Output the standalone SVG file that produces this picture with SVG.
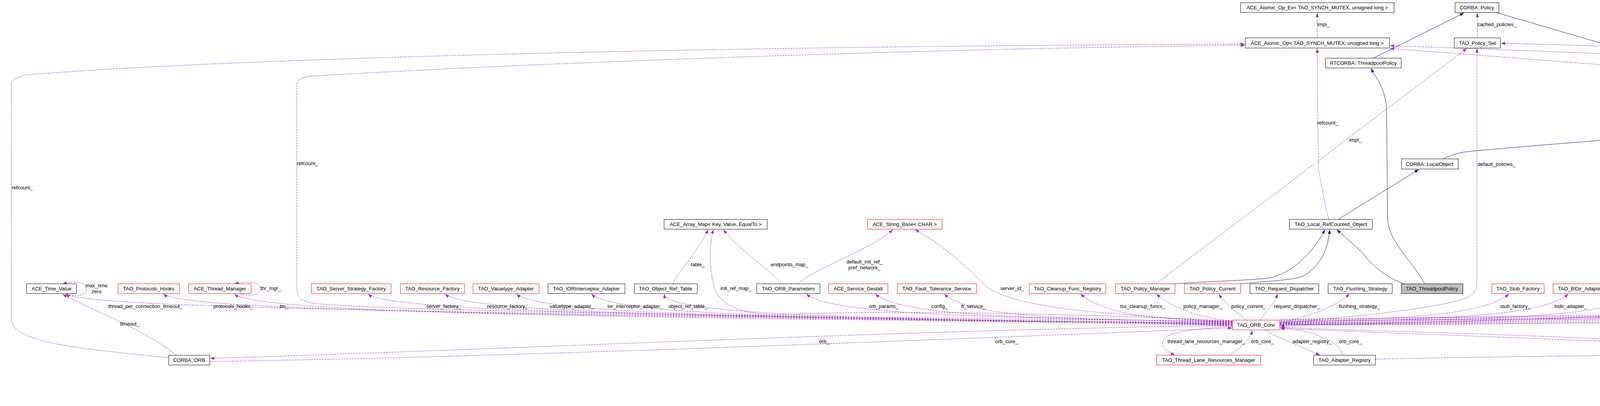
<svg xmlns="http://www.w3.org/2000/svg" width="6241" height="1040" viewBox="0 0 6241 1040">
<style>
text{font-family:"Liberation Sans",Arial,sans-serif;font-size:13px;fill:#000}
.nd text{text-anchor:middle}
.lb text{text-anchor:middle}
.nd rect{fill:#fff;stroke:#000;stroke-width:1}
.nd .red rect{stroke:#ff0000}
.nd .cur rect{fill:#bfbfbf}
.e{fill:none;stroke:#9a32cd;stroke-width:1;stroke-dasharray:5,2;marker-end:url(#ap)}
.i{fill:none;stroke:#191970;stroke-width:1;marker-end:url(#an)}
</style>
<defs>
<marker id="ap" markerWidth="11" markerHeight="8" refX="11" refY="4" orient="auto" markerUnits="userSpaceOnUse"><path d="M0,0 L11,4 L0,8 z" fill="#9a32cd"/></marker>
<marker id="an" markerWidth="11" markerHeight="8" refX="11" refY="4" orient="auto" markerUnits="userSpaceOnUse"><path d="M0,0 L11,4 L0,8 z" fill="#191970"/></marker>
</defs>
<rect width="6241" height="1040" fill="#fff"/>
<g id="edges">
<path class="i" d="M3516,149 L3748,33"/>
<path class="i" d="M3830,32 L4757,303"/>
<path class="i" d="M3694,407 C3720,395 3740,390 3760,388 C3950,370 4400,335 4744,317"/>
<path class="i" d="M3426,562 L3632,434"/>
<path class="i" d="M3005,727 C3100,720 3220,718 3260,710 C3320,690 3365,640 3392,588"/>
<path class="i" d="M3176,727 C3240,720 3320,718 3340,705 C3380,680 3400,640 3404,588"/>
<path class="i" d="M3594,727 C3560,715 3520,690 3490,650 C3460,620 3440,605 3422,588"/>
<path class="i" d="M3647,727 C3610,660 3555,620 3552,560 L3550,290 C3550,230 3522,200 3510,175"/>
<path class="i" d="M5153,252 L5153,124"/>
<path class="e" d="M432,917 C250,895 35,885 29,820 L29,215 C29,200 60,190 104,189 C600,150 1800,118 3187,113"/>
<path class="e" d="M3155,823 C2000,812 900,795 790,775 C765,768 760,755 760,735 L760,215 C760,200 790,195 812,194 C1300,165 2300,125 3187,116"/>
<path class="e" d="M170,753 C205,763 222,752 222,740 C222,728 205,716 160,727"/>
<path class="e" d="M615,753 C650,762 667,752 667,740 C667,728 650,716 600,727"/>
<path class="e" d="M451,910 C380,850 250,800 160,754"/>
<path class="e" d="M3155,834 C1660,800 236,798 168,753"/>
<path class="e" d="M3155,833 C1787,806 488,806 418,753"/>
<path class="e" d="M3155,832 C1878,812 670,812 600,753"/>
<path class="e" d="M3155,831 C2048,808 1012,808 942,753"/>
<path class="e" d="M3155,830 C2147,812 1209,812 1139,753"/>
<path class="e" d="M3155,829 C2238,815 1392,815 1322,753"/>
<path class="e" d="M3155,828 C2334,818 1584,818 1514,753"/>
<path class="e" d="M3155,827 C2428,820 1701,815 1701,753"/>
<path class="e" d="M3155,826 C2610,812 2134,812 2064,753"/>
<path class="e" d="M3155,825 C2698,815 2311,815 2241,753"/>
<path class="e" d="M3155,824 C2786,818 2487,818 2417,753"/>
<path class="e" d="M3155,823 C2960,818 2836,810 2766,753"/>
<path class="e" d="M3155,822 C3080,815 3010,795 2960,753"/>
<path class="e" d="M3190,820 C3170,800 3140,785 3120,753"/>
<path class="e" d="M3226,820 C3240,800 3260,780 3271,753"/>
<path class="e" d="M3276,830 C3330,810 3400,800 3455,753"/>
<path class="e" d="M3276,826 C3570,815 3793,812 3863,753"/>
<path class="e" d="M3276,827 C3645,817 3945,815 4015,753"/>
<path class="e" d="M3276,828 C3736,819 4126,818 4196,753"/>
<path class="e" d="M3276,829 C3845,820 4345,820 4415,753"/>
<path class="e" d="M3276,830 C3957,822 4569,818 4639,753"/>
<path class="e" d="M3276,831 C4090,824 4833,815 4903,753"/>
<path class="e" d="M3276,832 C4236,826 5126,818 5196,753"/>
<path class="e" d="M3276,833 C4343,828 5341,820 5411,753"/>
<path class="e" d="M3278,822 C4500,812 5500,818 5590,800 C5620,790 5645,775 5664,753"/>
<path class="e" d="M3155,822 C2700,800 2200,795 2000,806 C1900,808 1840,780 1829,737 C1816,690 1814,640 1826,588"/>
<path class="e" d="M3155,826 C3000,815 2850,805 2743,793 C2600,775 2540,750 2518,727 C2450,660 2400,620 2342,588"/>
<path class="e" d="M1722,727 C1740,690 1790,640 1813,588"/>
<path class="e" d="M2001,727 C1960,680 1890,640 1852,588"/>
<path class="e" d="M2041,727 C2100,680 2230,640 2286,588"/>
<path class="e" d="M3155,834 C2400,842 1300,895 538,918"/>
<path class="e" d="M537,926 C1300,915 2400,870 3155,840"/>
<path class="e" d="M3155,836 C3080,840 3010,850 2990,860 C2965,875 2975,895 3008,910"/>
<path class="e" d="M3146,910 C3180,890 3200,870 3206,846"/>
<path class="e" d="M3239,846 C3280,870 3340,890 3379,910"/>
<path class="e" d="M3438,910 C3430,880 3380,850 3277,838"/>
<path class="e" d="M3278,828 C3450,812 3700,790 3760,760 C3778,748 3781,740 3781,720 L3781,124"/>
<path class="e" d="M3402,562 C3395,540 3388,500 3375,430 L3372,124"/>
<path class="e" d="M3372,97 L3372,33"/>
<path class="e" d="M3782,97 L3782,33"/>
<path class="e" d="M2959,727 L3755,124"/>
<path class="e" d="M5667,206 C5300,175 4500,125 3842,111"/>
<path class="e" d="M5667,212 C5300,190 4500,150 3558,117"/>
<path class="e" d="M4622,205 C4400,190 3900,150 3558,124"/>
<path class="e" d="M4712,201 L4710,124"/>
<path class="e" d="M4787,302 C4770,270 4745,245 4734,228"/>
<path class="e" d="M4826,302 C4900,250 5050,170 5122,124"/>
<path class="e" d="M4860,312 C5000,300 5150,290 5300,280 C5450,260 5600,230 5666,222"/>
<path class="e" d="M4803,329 L4803,745 C4803,770 4760,785 4700,790 C4300,808 3600,828 3277,834"/>
<path class="e" d="M3278,824 C3800,812 4900,812 4995,797 C5030,780 5035,740 5022,707 L4817,329"/>
<path class="e" d="M3278,820 C4200,802 4950,800 5055,787 C5100,760 5130,700 5145,640 C5168,540 5170,420 5156,278"/>
<path class="e" d="M3278,818 C4500,805 5450,805 5571,787 C5600,760 5620,725 5651,720 C5700,705 5850,702 5923,687 C5990,670 6020,640 6030,600 C6040,550 6042,450 6042,300 L6042,210 C6042,170 6000,140 5983,124"/>
<path class="e" d="M5667,204 C5550,180 5350,140 5196,118"/>
<path class="e" d="M5709,201 L5709,124"/>
<path class="e" d="M5754,203 C5820,180 5890,150 5926,124"/>
<path class="e" d="M5737,228 C5780,250 5805,280 5805,320 L5807,700 C5800,800 5720,850 5600,880 C5450,910 5350,915 5277,920"/>
<path class="e" d="M5752,226 C5850,250 5914,280 5914,330 L5914,860 C5914,880 5905,895 5897,910"/>
<path class="e" d="M5753,218 C5880,240 5925,290 5935,320 L6035,515 C6080,620 6092,650 6092,700 L6092,940 C6092,980 6040,995 6005,1000"/>
<path class="e" d="M5880,910 C5800,700 5700,600 5638,520 C5500,380 5400,270 5306,250 C5150,235 4950,225 4816,220"/>
<path class="e" d="M5843,922 C5400,915 4500,890 4100,868 C3700,850 3400,845 3277,838"/>
<path class="e" d="M5096,920 C4800,910 4300,882 4100,874 C3700,858 3400,846 3277,842"/>
<path class="e" d="M3521,920 C4200,905 5200,905 5400,895 C5600,870 5700,830 5707,753"/>
<path class="e" d="M5903,1000 C5890,990 5875,970 5878,936"/>
<path class="e" d="M5910,936 C5925,955 5940,975 5949,1000"/>
<path class="e" d="M5995,1025 C6020,1032 6030,1020 6030,1012 C6030,1002 6020,994 5990,1000"/>
</g>
<g id="labels" class="lb">
<text x="57" y="485">refcount_</text>
<text x="787" y="423">refcount_</text>
<text x="247" y="736">max_time</text>
<text x="247" y="751">zero</text>
<text x="693" y="743">thr_mgr_</text>
<text x="372" y="789">thread_per_connection_timeout_</text>
<text x="597" y="789">protocols_hooks_</text>
<text x="727" y="789">tm_</text>
<text x="332" y="834">timeout_</text>
<text x="1136" y="789">server_factory_</text>
<text x="1299" y="789">resource_factory_</text>
<text x="1464" y="789">valuetype_adapter_</text>
<text x="1626" y="789">ior_interceptor_adapter_</text>
<text x="1761" y="789">object_ref_table_</text>
<text x="1786" y="682">table_</text>
<text x="1884" y="743">init_ref_map_</text>
<text x="2021" y="682">endpoints_map_</text>
<text x="2213" y="675">default_init_ref_</text>
<text x="2213" y="690">pref_network_</text>
<text x="2591" y="743">server_id_</text>
<text x="2262" y="789">orb_params_</text>
<text x="2405" y="789">config_</text>
<text x="2492" y="789">ft_service_</text>
<text x="2925" y="789">tss_cleanup_funcs_</text>
<text x="3079" y="789">policy_manager_</text>
<text x="3196" y="789">policy_current_</text>
<text x="3320" y="789">request_dispatcher_</text>
<text x="3480" y="789">flushing_strategy_</text>
<text x="3879" y="789">stub_factory_</text>
<text x="4021" y="789">bidir_adapter_</text>
<text x="4187" y="789">client_factory_</text>
<text x="4413" y="789">endpoint_selector_factory_</text>
<text x="4635" y="789">codeset_manager_</text>
<text x="4933" y="789">collocation_resolver_</text>
<text x="5218" y="789">parser_registry_</text>
<text x="5451" y="789">network_priority_protocols_hooks_</text>
<text x="5657" y="789">poa_adapter_</text>
<text x="5687" y="836">adapters_</text>
<text x="2110" y="879">orb_</text>
<text x="2577" y="879">orb_core_</text>
<text x="3088" y="879">thread_lane_resources_manager_</text>
<text x="3232" y="879">orb_core_</text>
<text x="3359" y="879">adapter_registry_</text>
<text x="3457" y="879">orb_core_</text>
<text x="4326" y="879">p_</text>
<text x="4798" y="879">orb_core_</text>
<text x="3388" y="67">impl_</text>
<text x="3832" y="67">cached_policies_</text>
<text x="3399" y="319">refcount_</text>
<text x="3470" y="363">impl_</text>
<text x="3831" y="425">default_policies_</text>
<text x="4256" y="165">mutex_refcount_</text>
<text x="4754" y="165">null_refcount_</text>
<text x="4830" y="165">refcount_</text>
<text x="5049" y="217">object_init_lock_</text>
<text x="4799" y="267">refcount_</text>
<text x="4832" y="577">orb_core_</text>
<text x="5052" y="527">pi_current_</text>
<text x="5052" y="541">ior_manip_factory_</text>
<text x="5052" y="556">ior_table_</text>
<text x="5052" y="570">typecode_factory_</text>
<text x="5052" y="585">implrepo_service_</text>
<text x="5052" y="600">codec_factory_</text>
<text x="5052" y="615">compression_manager_</text>
<text x="5052" y="629">dynany_factory_</text>
<text x="5225" y="486">data_block_lock_</text>
<text x="5280" y="165">policies_</text>
<text x="5544" y="165">profile_lock_ptr_</text>
<text x="5768" y="165">collocated_servant_</text>
<text x="5932" y="159">servant_orb_</text>
<text x="5932" y="173">orb_</text>
<text x="5564" y="267">protocol_proxy_</text>
<text x="6080" y="404">rt_orb_</text>
<text x="6080" y="419">poa_current_</text>
<text x="6080" y="433">rt_current_</text>
<text x="6080" y="447">root_poa_</text>
<text x="5746" y="577">refcount_</text>
<text x="5842" y="577">orb_core_</text>
<text x="5959" y="577">profile_in_use_</text>
<text x="6162" y="668">forward_profiles_</text>
<text x="6162" y="683">forward_profiles_perm_</text>
<text x="6162" y="697">base_profiles_</text>
<text x="5899" y="971">pfiles_</text>
<text x="5972" y="971">forward_to_</text>
<text x="6078" y="1016">forward_from_</text>
</g>
<g id="nodes" class="nd">
<g id="n_ACE_Time_Value"><rect x="68" y="727" width="128" height="25"/><text x="132" y="744">ACE_Time_Value</text></g>
<g id="n_TAO_Protocols_Hooks" class="red"><rect x="302" y="727" width="158" height="25"/><text x="381" y="744">TAO_Protocols_Hooks</text></g>
<g id="n_ACE_Thread_Manager" class="red"><rect x="483" y="727" width="160" height="25"/><text x="563" y="744">ACE_Thread_Manager</text></g>
<g id="n_TAO_Server_Strategy_Factory" class="red"><rect x="797" y="727" width="204" height="25"/><text x="899" y="744">TAO_Server_Strategy_Factory</text></g>
<g id="n_TAO_Resource_Factory" class="red"><rect x="1025" y="727" width="164" height="25"/><text x="1107" y="744">TAO_Resource_Factory</text></g>
<g id="n_TAO_Valuetype_Adapter" class="red"><rect x="1211" y="727" width="169" height="25"/><text x="1295" y="744">TAO_Valuetype_Adapter</text></g>
<g id="n_TAO_IORInterceptor_Adapter"><rect x="1403" y="727" width="197" height="25"/><text x="1501" y="744">TAO_IORInterceptor_Adapter</text></g>
<g id="n_TAO_Object_Ref_Table"><rect x="1624" y="727" width="161" height="25"/><text x="1704" y="744">TAO_Object_Ref_Table</text></g>
<g id="n_TAO_ORB_Parameters"><rect x="1937" y="727" width="162" height="25"/><text x="2018" y="744">TAO_ORB_Parameters</text></g>
<g id="n_ACE_Service_Gestalt" class="red"><rect x="2121" y="727" width="152" height="25"/><text x="2197" y="744">ACE_Service_Gestalt</text></g>
<g id="n_TAO_Fault_Tolerance_Service" class="red"><rect x="2297" y="727" width="203" height="25"/><text x="2398" y="744">TAO_Fault_Tolerance_Service</text></g>
<g id="n_TAO_Cleanup_Func_Registry" class="red"><rect x="2635" y="727" width="196" height="25"/><text x="2733" y="744">TAO_Cleanup_Func_Registry</text></g>
<g id="n_TAO_Policy_Manager" class="red"><rect x="2856" y="727" width="152" height="25"/><text x="2932" y="744">TAO_Policy_Manager</text></g>
<g id="n_TAO_Policy_Current" class="red"><rect x="3032" y="727" width="144" height="25"/><text x="3104" y="744">TAO_Policy_Current</text></g>
<g id="n_TAO_Request_Dispatcher"><rect x="3200" y="727" width="176" height="25"/><text x="3288" y="744">TAO_Request_Dispatcher</text></g>
<g id="n_TAO_Flushing_Strategy"><rect x="3400" y="727" width="164" height="25"/><text x="3482" y="744">TAO_Flushing_Strategy</text></g>
<g id="n_TAO_ThreadpoolPolicy" class="cur"><rect x="3588" y="727" width="157" height="25"/><text x="3666" y="744">TAO_ThreadpoolPolicy</text></g>
<g id="n_TAO_Stub_Factory" class="red"><rect x="3819" y="727" width="134" height="25"/><text x="3886" y="744">TAO_Stub_Factory</text></g>
<g id="n_TAO_BiDir_Adapter" class="red"><rect x="3976" y="727" width="139" height="25"/><text x="4045" y="744">TAO_BiDir_Adapter</text></g>
<g id="n_TAO_Client_Strategy_Factory" class="red"><rect x="4139" y="727" width="198" height="25"/><text x="4238" y="744">TAO_Client_Strategy_Factory</text></g>
<g id="n_TAO_Endpoint_Selector_Factory" class="red"><rect x="4360" y="727" width="217" height="25"/><text x="4468" y="744">TAO_Endpoint_Selector_Factory</text></g>
<g id="n_TAO_Codeset_Manager"><rect x="4600" y="727" width="165" height="25"/><text x="4682" y="744">TAO_Codeset_Manager</text></g>
<g id="n_TAO_Collocation_Resolver" class="red"><rect x="4840" y="727" width="181" height="25"/><text x="4930" y="744">TAO_Collocation_Resolver</text></g>
<g id="n_TAO_Parser_Registry" class="red"><rect x="5147" y="727" width="150" height="25"/><text x="5222" y="744">TAO_Parser_Registry</text></g>
<g id="n_TAO_Network_Priority_Protocols_Hooks" class="red"><rect x="5320" y="727" width="263" height="25"/><text x="5451" y="744">TAO_Network_Priority_Protocols_Hooks</text></g>
<g id="n_TAO_Adapter"><rect x="5656" y="727" width="102" height="25"/><text x="5707" y="744">TAO_Adapter</text></g>
<g id="n_TAO_ORB_Core" class="red"><rect x="3155" y="820" width="121" height="25"/><text x="3215" y="837">TAO_ORB_Core</text></g>
<g id="n_CORBA_ORB"><rect x="432" y="910" width="105" height="25"/><text x="484" y="927">CORBA::ORB</text></g>
<g id="n_TAO_Thread_Lane_Resources_Manager" class="red"><rect x="2961" y="910" width="266" height="25"/><text x="3094" y="927">TAO_Thread_Lane_Resources_Manager</text></g>
<g id="n_TAO_Adapter_Registry"><rect x="3363" y="910" width="158" height="25"/><text x="3442" y="927">TAO_Adapter_Registry</text></g>
<g id="n_TAO_ORB_Core_Auto_Ptr"><rect x="5096" y="910" width="180" height="25"/><text x="5186" y="927">TAO_ORB_Core_Auto_Ptr</text></g>
<g id="n_TAO_Profile" class="red"><rect x="5843" y="910" width="93" height="25"/><text x="5889" y="927">TAO_Profile</text></g>
<g id="n_TAO_MProfile"><rect x="5908" y="1000" width="104" height="25"/><text x="5960" y="1017">TAO_MProfile</text></g>
<g id="n_ACE_Array_Map"><rect x="1700" y="562" width="264" height="25"/><text x="1832" y="579">ACE_Array_Map&lt; Key, Value, EqualTo &gt;</text></g>
<g id="n_ACE_String_Base" class="red"><rect x="2221" y="562" width="191" height="25"/><text x="2316" y="579">ACE_String_Base&lt; CHAR &gt;</text></g>
<g id="n_TAO_Local_RefCounted_Object"><rect x="3301" y="562" width="212" height="25"/><text x="3407" y="579">TAO_Local_RefCounted_Object</text></g>
<g id="n_CORBA_LocalObject"><rect x="3588" y="407" width="145" height="26"/><text x="3660" y="425">CORBA::LocalObject</text></g>
<g id="n_RTCORBA_ThreadpoolPolicy"><rect x="3393" y="149" width="194" height="25"/><text x="3490" y="166">RTCORBA::ThreadpoolPolicy</text></g>
<g id="n_ACE_Atomic_Op_Ex"><rect x="3176" y="7" width="393" height="25"/><text x="3372" y="24">ACE_Atomic_Op_Ex&lt; TAO_SYNCH_MUTEX, unsigned long &gt;</text></g>
<g id="n_CORBA_Policy"><rect x="3725" y="7" width="112" height="25"/><text x="3781" y="24">CORBA::Policy</text></g>
<g id="n_ACE_Atomic_Op_TAO"><rect x="3188" y="97" width="369" height="26"/><text x="3372" y="115">ACE_Atomic_Op&lt; TAO_SYNCH_MUTEX, unsigned long &gt;</text></g>
<g id="n_TAO_Policy_Set"><rect x="3723" y="97" width="118" height="26"/><text x="3782" y="115">TAO_Policy_Set</text></g>
<g id="n_ACE_Atomic_Op_NULL" class="red"><rect x="4504" y="97" width="413" height="26"/><text x="4710" y="115">ACE_Atomic_Op&lt; ACE_SYNCH_NULL_MUTEX, unsigned long &gt;</text></g>
<g id="n_ACE_Lock"><rect x="5109" y="97" width="86" height="26"/><text x="5152" y="115">ACE_Lock</text></g>
<g id="n_TAO_Abstract_ServantBase"><rect x="5615" y="97" width="188" height="26"/><text x="5709" y="115">TAO_Abstract_ServantBase</text></g>
<g id="n_TAO_Pseudo_Var_T" class="red"><rect x="5864" y="97" width="176" height="26"/><text x="5952" y="115">TAO_Pseudo_Var_T&lt; T &gt;</text></g>
<g id="n_TAO_Configurable_Refcount"><rect x="4623" y="201" width="192" height="26"/><text x="4719" y="219">TAO_Configurable_Refcount</text></g>
<g id="n_TAO_Stub"><rect x="5667" y="201" width="85" height="26"/><text x="5709" y="219">TAO_Stub</text></g>
<g id="n_CORBA_Object"><rect x="4745" y="303" width="115" height="25"/><text x="4802" y="320">CORBA::Object</text></g>
<g id="n_ACE_Lock_Adapter"><rect x="5003" y="252" width="297" height="25"/><text x="5151" y="269">ACE_Lock_Adapter&lt; TAO_SYNCH_MUTEX &gt;</text></g>
</g>
</svg>
